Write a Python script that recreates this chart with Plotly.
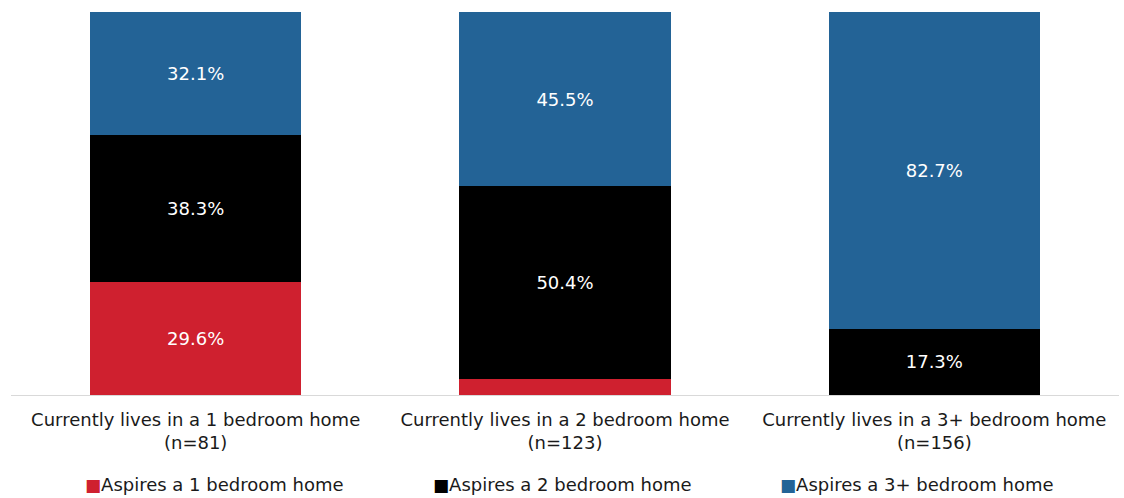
import plotly.graph_objects as go

categories = [
    "Currently lives in a 1 bedroom home<br>(n=81)",
    "Currently lives in a 2 bedroom home<br>(n=123)",
    "Currently lives in a 3+ bedroom home<br>(n=156)",
]
series_names = [
    "Aspires a 1 bedroom home",
    "Aspires a 2 bedroom home",
    "Aspires a 3+ bedroom home",
]
aspires_1bed = [29.6, 4.1, 0.0]
aspires_2bed = [38.3, 50.4, 17.3]
aspires_3bed = [32.1, 45.5, 82.7]
colors = ["#cf202f", "#000000", "#236396"]

FONT = "DejaVu Sans, Verdana, sans-serif"
TEXT_COLOR = "#1a1a1a"

W, H = 1124, 498
ML, MR, MT, MB = 11, 5, 12, 103
plot_w = W - ML - MR
plot_h = H - MT - MB

fig = go.Figure()
for name, vals, col in zip(series_names, [aspires_1bed, aspires_2bed, aspires_3bed], colors):
    # only label segments big enough to hold their value
    labels = [f"{v:.1f}%" if v >= 10 else "" for v in vals]
    fig.add_trace(go.Bar(
        x=categories,
        y=vals,
        name=name,
        marker=dict(color=col, line=dict(width=0)),
        text=labels,
        textposition="inside",
        insidetextanchor="middle",
        textangle=0,
        textfont=dict(color="white", size=18, family=FONT),
        hoverinfo="skip",
        showlegend=False,
    ))

# horizontal legend row: colored square + series name
legend_left_px = [83, 431, 778]
legend_mid_px = 484
for name, col, lx in zip(series_names, colors, legend_left_px):
    fx = (lx - ML) / plot_w
    fy = (H - MB - legend_mid_px) / plot_h
    fig.add_annotation(
        xref="paper", yref="paper",
        x=fx, y=fy, xanchor="left", yanchor="middle",
        text=f"<span style='color:{col};font-size:17px'>■</span>{name}",
        showarrow=False,
        font=dict(size=18, family=FONT, color=TEXT_COLOR),
    )

fig.update_layout(
    barmode="stack",
    bargap=0.428,
    width=W,
    height=H,
    margin=dict(l=ML, r=MR, t=MT, b=MB),
    paper_bgcolor="white",
    plot_bgcolor="white",
    font=dict(family=FONT, size=18, color=TEXT_COLOR),
    showlegend=False,
    xaxis=dict(
        showline=True,
        linecolor="#d9d9d9",
        linewidth=1,
        ticks="",
        automargin=False,
        ticklabelstandoff=8,
        tickfont=dict(size=18, family=FONT, color=TEXT_COLOR),
    ),
    yaxis=dict(
        range=[0, 100],
        visible=False,
        showgrid=False,
        zeroline=False,
    ),
)

fig.write_html("out.html")
